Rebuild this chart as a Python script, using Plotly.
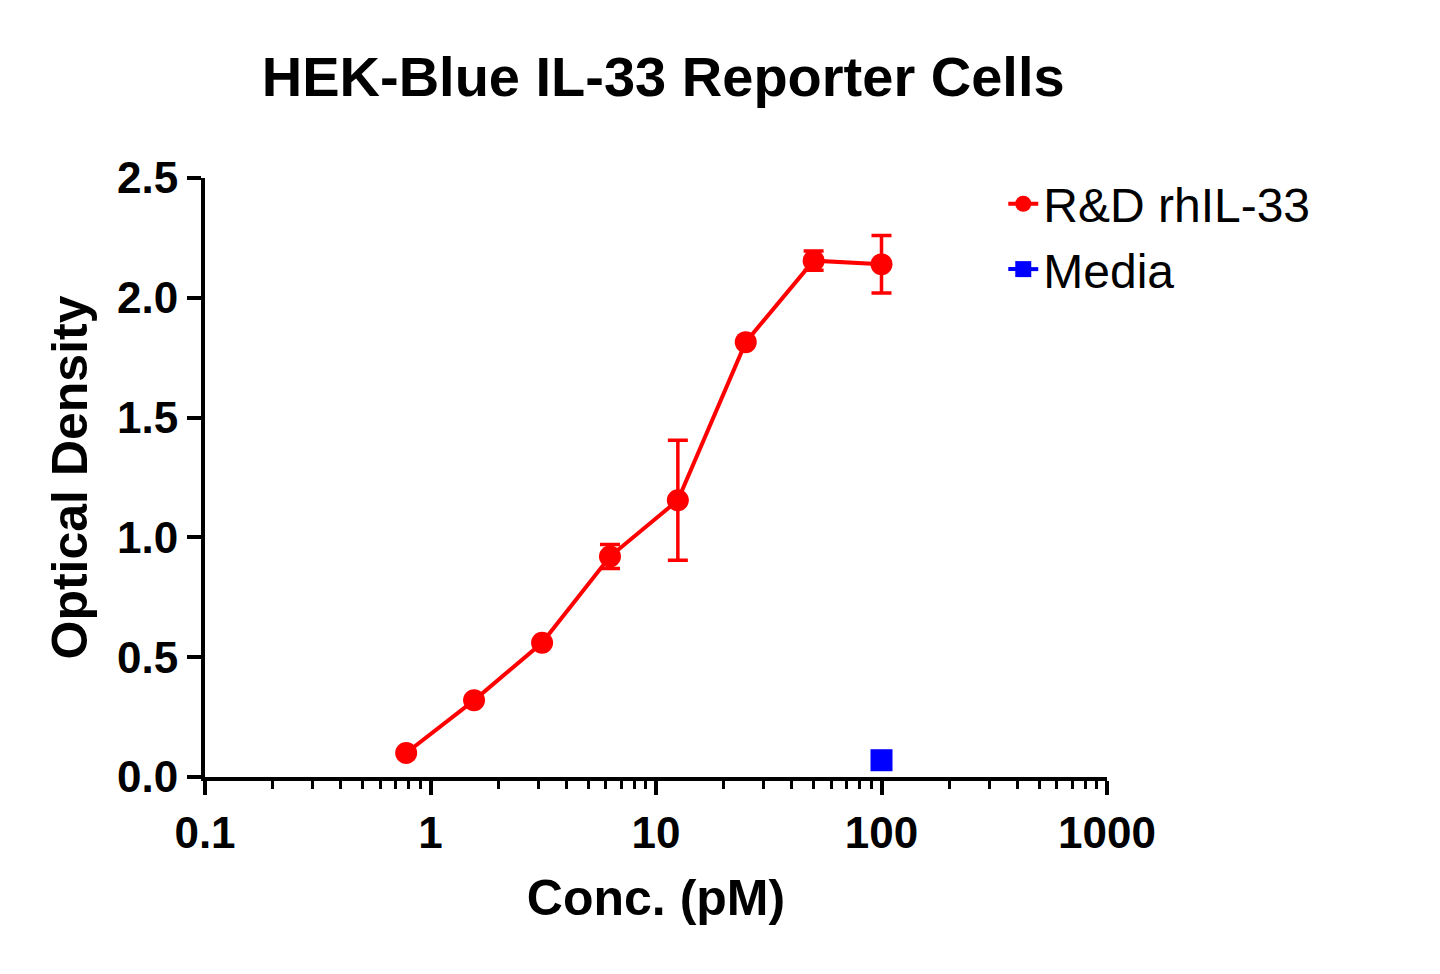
import plotly.graph_objects as go

conc = [0.78, 1.56, 3.125, 6.25, 12.5, 25, 50, 100]
od = [0.10, 0.32, 0.56, 0.92, 1.155, 1.815, 2.155, 2.14]
err = [0, 0, 0, 0.05, 0.25, 0, 0.04, 0.12]
media_x = [100]
media_y = [0.07]

fig = go.Figure()
fig.add_trace(go.Scatter(x=conc, y=od, name="R&D rhIL-33", mode="lines+markers",
    line=dict(color="#ff0000", width=4), marker=dict(size=22, color="#ff0000"),
    error_y=dict(type="data", array=err, color="#ff0000", thickness=3.5, width=10)))
fig.add_trace(go.Scatter(x=media_x, y=media_y, name="Media", mode="lines+markers",
    line=dict(color="#0000ff", width=4), marker=dict(size=22, color="#0000ff", symbol="square")))

font = "Liberation Sans, Arial, sans-serif"
fig.update_layout(
    width=1440, height=974, plot_bgcolor="white", paper_bgcolor="white",
    margin=dict(l=197, r=341, t=170, b=205),
    title=dict(text="<b>HEK-Blue IL-33 Reporter Cells</b>", x=0.455, xanchor="center", y=0.93, yanchor="middle",
               font=dict(family=font, size=56, color="black")),
    font=dict(family=font, color="black"),
    legend=dict(x=0.885, y=1.02, xref="paper", xanchor="left", yanchor="top",
                font=dict(size=48, family=font), tracegroupgap=0),
    xaxis=dict(type="log", range=[-1, 3], showline=True, linewidth=4, linecolor="black",
               ticks="outside", ticklen=14, tickwidth=4, tickcolor="black", showgrid=False,
               tickvals=[0.1, 1, 10, 100, 1000], ticktext=["<b>0.1</b>", "<b>1</b>", "<b>10</b>", "<b>100</b>", "<b>1000</b>"],
               tickfont=dict(size=44, family=font), zeroline=False,
               minor=dict(ticks="outside", ticklen=8, tickwidth=3, tickcolor="black", dtick="D1", showgrid=False),
               title=dict(text="<b>Conc. (pM)</b>", font=dict(size=50, family=font), standoff=25)),
    yaxis=dict(range=[0, 2.5], showline=True, linewidth=4, linecolor="black",
               ticks="outside", ticklen=14, tickwidth=4, tickcolor="black", showgrid=False,
               tickvals=[0, 0.5, 1, 1.5, 2, 2.5], ticktext=["<b>0.0</b>", "<b>0.5</b>", "<b>1.0</b>", "<b>1.5</b>", "<b>2.0</b>", "<b>2.5</b>"],
               tickfont=dict(size=44, family=font), zeroline=False,
               title=dict(text="<b>Optical Density</b>", font=dict(size=50, family=font), standoff=15)),
)
fig.write_html("out.html")
